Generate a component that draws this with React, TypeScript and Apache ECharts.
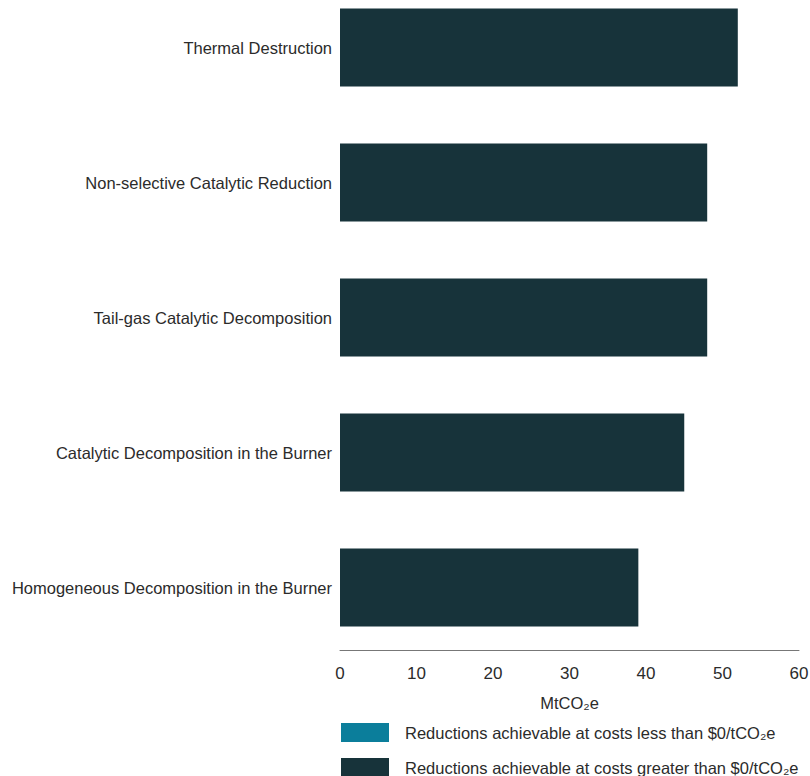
import React, { useEffect, useRef } from "react";
import * as echarts from "echarts";

const categories = [
  "Thermal Destruction",
  "Non-selective Catalytic Reduction",
  "Tail-gas Catalytic Decomposition",
  "Catalytic Decomposition in the Burner",
  "Homogeneous Decomposition in the Burner",
];
const lessThanZero = [0, 0, 0, 0, 0];
const greaterThanZero = [52, 48, 48, 45, 39];
const seriesNames = [
  "Reductions achievable at costs less than $0/tCO₂e",
  "Reductions achievable at costs greater than $0/tCO₂e",
];
const axisName = "MtCO₂e";

const FONT = '"Liberation Sans", Arial, sans-serif';
const FS = 16.5;
const TEXT = "#2b2b2b";

export default function App() {
  const ref = useRef<HTMLDivElement>(null);
  useEffect(() => {
    document.body.style.margin = "0";
    const chart = echarts.init(ref.current!, undefined, { renderer: "svg" });
    const legendBase = {
      orient: "vertical",
      left: 341,
      padding: 0,
      itemWidth: 48,
      itemHeight: 19,
      icon: "rect",
      textStyle: { fontFamily: FONT, fontSize: FS, color: TEXT, padding: [0, 0, 0, 11] },
    };
    chart.setOption({
      animation: false,
      textStyle: { fontFamily: FONT },
      grid: { left: 340, right: 11, top: -20, bottom: 121, containLabel: false, outerBoundsMode: "none" },
      legend: [
        { ...legendBase, top: 723, data: [seriesNames[0]] },
        { ...legendBase, top: 758, data: [seriesNames[1]] },
      ],
      xAxis: {
        type: "value",
        min: 0,
        max: 60,
        interval: 10,
        offset: -5,
        name: axisName,
        nameLocation: "middle",
        nameGap: 44,
        nameTextStyle: { fontFamily: FONT, fontSize: FS, color: TEXT },
        axisLine: { show: true, lineStyle: { color: "#777777", width: 1 } },
        axisTick: { show: false },
        splitLine: { show: false },
        axisLabel: { fontFamily: FONT, fontSize: 17, color: TEXT, margin: 15 },
      },
      yAxis: {
        type: "category",
        inverse: true,
        data: categories,
        axisLine: { show: false },
        axisTick: { show: false },
        axisLabel: { fontFamily: FONT, fontSize: FS, color: TEXT, margin: 8 },
      },
      series: [
        {
          name: seriesNames[0],
          type: "bar",
          stack: "total",
          barWidth: 78,
          itemStyle: { color: "#0b7e9b" },
          data: lessThanZero,
        },
        {
          name: seriesNames[1],
          type: "bar",
          stack: "total",
          barWidth: 78,
          itemStyle: { color: "#17333a" },
          data: greaterThanZero,
        },
      ],
    });
    return () => chart.dispose();
  }, []);
  return <div ref={ref} style={{ width: 810, height: 776 }} />;
}
